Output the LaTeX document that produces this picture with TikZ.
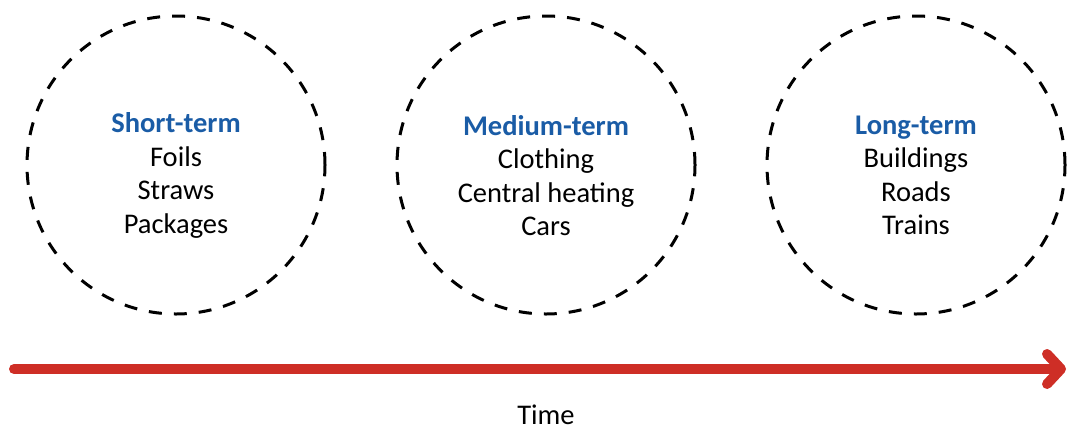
\documentclass[tikz,border=0pt]{standalone}
\usepackage{fontspec}
\setmainfont{Carlito}
\usetikzlibrary{arrows.meta}
\definecolor{termblue}{HTML}{1A5CA6}
\definecolor{timered}{HTML}{CE2E26}
\tikzset{
  period/.style={circle, draw=black, line width=3pt, dash pattern=on 13pt off 12pt, minimum size=298pt, inner sep=0pt},
  label/.style={align=center, font=\fontsize{28.5}{33.5}\selectfont},
  timeline/.style={draw=timered, line width=10pt, line cap=round, -{Straight Barb[length=14pt, width=30pt, round]}}
}
\begin{document}
\begin{tikzpicture}[x=1pt,y=-1pt]
\useasboundingbox (0,0) rectangle (1073,432);
\node[period] (c1) at (176,165) {};
\node[period] (c2) at (546,165) {};
\node[period] (c3) at (916,165) {};
\node[label] (t1) at (176,175.5) {\textcolor{termblue}{\textbf{Short-term}}\\Foils\\Straws\\Packages};
\node[label] (t2) at (546,175.5) {\textcolor{termblue}{\textbf{Medium-term}}\\Clothing\\Central heating\\Cars};
\node[label] (t3) at (916,175.5) {\textcolor{termblue}{\textbf{Long-term}}\\Buildings\\Roads\\Trains};
\coordinate (s) at (14,369);
\coordinate (e) at (1066,369);
\draw[timeline] (s) -- (e);
\node[label, inner sep=0pt] (time) at (546,415) {Time};
\end{tikzpicture}
\end{document}
